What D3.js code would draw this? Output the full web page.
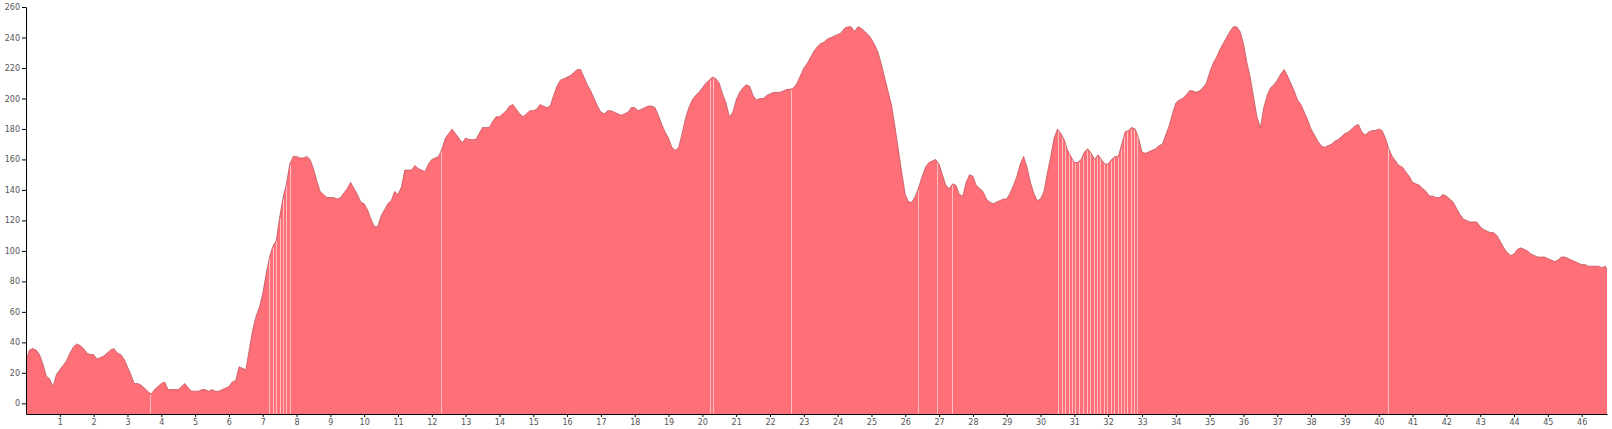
<!DOCTYPE html>
<html>
<head>
<meta charset="utf-8">
<script src="https://cdn.jsdelivr.net/npm/d3@7"></script>
<style>
  html, body { margin: 0; padding: 0; background: #fff; }
  .axis text { font-family: "DejaVu Sans", sans-serif; font-size: 8px; fill: #555; }
</style>
</head>
<body>
<script>
// elevation profile, sampled every 0.1 km (metres)
const sampleKm = 0.1;
const routeKm = 46.75;

const elev00 = [
  28, 35, 36, 35, 32, 26, 18, 16, 11, 19,
  22, 25, 28, 33, 37, 39, 38, 36, 33, 32,
  32, 29, 30, 31, 33, 35, 36, 33, 32, 29,
  24, 19, 13, 13, 12, 10, 8, 6, 9, 11,
  13, 14, 9, 9, 9, 9, 11, 13, 10, 8,
  8, 8, 9, 9, 8, 9, 8, 8, 9, 10,
  11, 14, 15, 24, 23, 22, 35, 48, 57, 63,
  72, 85, 96, 103, 107, 122, 135, 144, 157, 162,
  162, 161, 161, 162, 160, 154, 146, 139, 137, 135,
  135, 135, 134, 135, 138, 141, 145, 141, 137, 132
];
const elev10 = [
  131, 127, 121, 116, 116, 123, 127, 131, 133, 139,
  137, 142, 153, 153, 153, 156, 154, 153, 152, 157,
  160, 161, 162, 167, 174, 177, 180, 177, 174, 171,
  174, 173, 173, 173, 177, 181, 181, 181, 185, 188,
  188, 190, 192, 195, 196, 193, 190, 188, 190, 192,
  192, 193, 196, 195, 194, 195, 202, 208, 212, 213,
  214, 215, 217, 219, 219, 214, 209, 205, 200, 195,
  191, 190, 192, 192, 191, 190, 189, 190, 191, 194,
  194, 192, 193, 194, 195, 195, 194, 189, 183, 178,
  174, 168, 166, 168, 177, 187, 194, 199, 202, 204
];
const elev20 = [
  207, 210, 212, 214, 213, 210, 203, 197, 188, 191,
  199, 204, 207, 209, 208, 202, 199, 200, 200, 202,
  203, 204, 204, 204, 205, 206, 206, 207, 210, 215,
  220, 223, 227, 231, 234, 236, 237, 239, 240, 241,
  242, 243, 246, 247, 247, 244, 247, 246, 244, 242,
  239, 235, 230, 222, 213, 204, 195, 181, 166, 151,
  137, 132, 132, 136, 142, 149, 155, 158, 159, 160,
  157, 150, 143, 141, 144, 143, 137, 136, 145, 150,
  149, 143, 141, 139, 134, 132, 131, 132, 133, 134,
  134, 138, 143, 149, 157, 162, 155, 145, 138, 133
];
const elev30 = [
  134, 139, 151, 162, 174, 180, 177, 173, 166, 162,
  158, 158, 160, 165, 167, 164, 160, 163, 160, 157,
  157, 160, 162, 162, 170, 178, 179, 181, 180, 174,
  165, 164, 165, 166, 167, 169, 170, 176, 182, 190,
  197, 199, 200, 202, 205, 205, 204, 205, 207, 210,
  217, 223, 227, 232, 236, 240, 244, 247, 247, 244,
  236, 224, 214, 201, 188, 181, 194, 202, 207, 209,
  212, 216, 219, 215, 210, 205, 199, 196, 191, 186,
  180, 176, 172, 169, 168, 169, 170, 172, 173, 175,
  177, 178, 180, 182, 183, 178, 176, 178, 179, 179
];
const elev40 = [
  180, 179, 174, 167, 162, 159, 156, 155, 152, 149,
  145, 144, 143, 141, 139, 136, 136, 135, 135, 137,
  136, 134, 132, 128, 124, 121, 120, 119, 119, 119,
  116, 114, 113, 112, 112, 110, 106, 102, 99, 97,
  98, 101, 102, 101, 100, 98, 97, 96, 96, 96,
  95, 94, 93, 94, 96, 96, 95, 94, 93, 92,
  91, 91, 90, 90, 90, 90, 89, 90, 88
];

// thin light seams between the bars (km)
const seamKm = [
  3.68, 7.20, 7.30, 7.40, 7.50, 7.60, 7.70, 7.80, 12.28, 20.22, 20.31,
  22.61, 26.38, 26.95, 27.39,
  30.52, 30.63, 30.73, 30.83, 30.93, 31.03, 31.14, 31.25, 31.37, 31.47,
  31.57, 31.67, 31.77, 31.87, 31.97, 32.08, 32.18, 32.28, 32.37, 32.47,
  32.57, 32.67, 32.77, 32.86, 40.28
];

const yTicks = d3.range(0, 261, 20);
const xTicks = d3.range(1, 47);

const elevation = [].concat(elev00, elev10, elev20, elev30, elev40);
const profile = elevation.map((e, i) => ({ km: Math.min(i * sampleKm, routeKm), ele: e }));

const W = 1612, H = 429;
const margin = { top: 7, right: 5, bottom: 15, left: 26 };
const width = W - margin.left - margin.right;
const height = H - margin.top - margin.bottom;

const x = d3.scaleLinear().domain([0, routeKm]).range([0, width]);
const y = d3.scaleLinear().domain([-7, 260]).range([height, 0]);

const svg = d3.select('body').append('svg')
    .attr('width', W)
    .attr('height', H);

const g = svg.append('g')
    .attr('transform', 'translate(' + margin.left + ',' + margin.top + ')');

const area = d3.area()
    .x((d) => x(d.km))
    .y0(height)
    .y1((d) => y(d.ele));

g.append('path')
    .datum(profile)
    .attr('fill', '#ff6f77')
    .attr('d', area);

const eleAt = (km) => {
    let i = d3.bisector((d) => d.km).left(profile, km);
    i = Math.max(1, Math.min(profile.length - 1, i));
    const a = profile[i - 1], b = profile[i];
    const t = (km - a.km) / (b.km - a.km);
    return a.ele + t * (b.ele - a.ele);
};

g.selectAll('.seam')
    .data(seamKm)
    .enter()
    .append('line')
    .attr('class', 'seam')
    .attr('x1', (d) => Math.round(x(d)) + 0.5)
    .attr('x2', (d) => Math.round(x(d)) + 0.5)
    .attr('y1', height)
    .attr('y2', (d) => y(eleAt(d)) + 1)
    .attr('stroke', '#fff')
    .attr('stroke-opacity', 0.55)
    .attr('stroke-width', 1);

g.append('path')
    .datum(profile)
    .attr('fill', 'none')
    .attr('stroke', '#a8424d')
    .attr('stroke-opacity', 0.6)
    .attr('stroke-width', 1)
    .attr('d', d3.line().x((d) => x(d.km)).y((d) => y(d.ele)));

g.append('g')
    .attr('class', 'axis')
    .attr('transform', 'translate(0,' + height + ')')
    .call(d3.axisBottom(x).tickValues(xTicks).tickSize(3).tickPadding(2).tickSizeOuter(0));

g.append('g')
    .attr('class', 'axis')
    .call(d3.axisLeft(y).tickValues(yTicks).tickSize(4).tickPadding(2).tickSizeOuter(0));
</script>
</body>
</html>
